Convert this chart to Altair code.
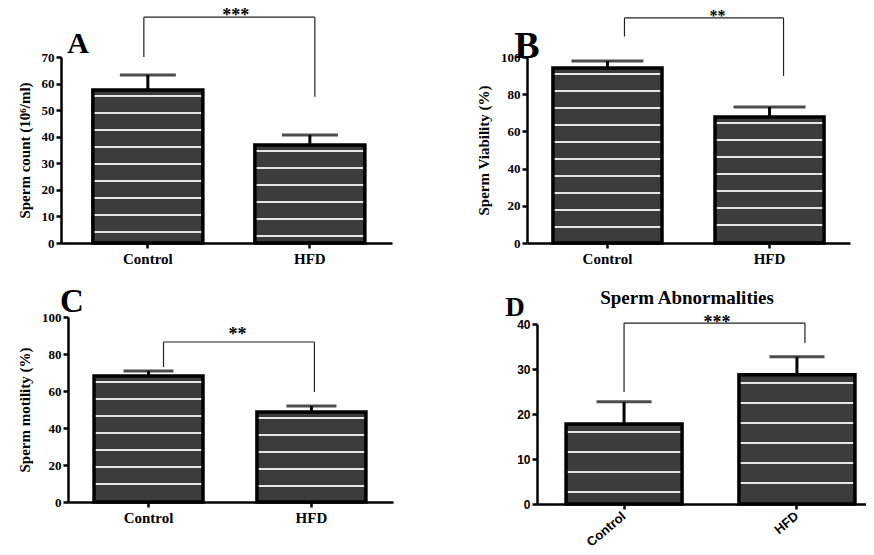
import altair as alt
import pandas as pd

# ---------------- data ----------------
categories = ["Control", "HFD"]
panel_letters = ["A", "B", "C", "D"]

count_mean = [57.6, 36.9]
count_sem = [5.6, 3.7]
viability_mean = [94.1, 67.7]
viability_sem = [3.7, 5.4]
motility_mean = [68.1, 48.6]
motility_sem = [2.7, 3.3]
abnormal_mean = [17.8, 28.7]
abnormal_sem = [4.9, 4.0]

sig_labels = ["***", "**", "**", "***"]
bracket_top = [85.0, 121.0, 86.5, 40.2]
bracket_left_end = [70.0, 111.0, 73.0, 24.9]
bracket_right_end = [55.0, 89.8, 59.5, 35.8]

y_titles = ["Sperm count (10⁶/ml)", "Sperm Viability (%)", "Sperm motility (%)", None]
y_max = [70, 100, 100, 40]
y_step = [10, 20, 20, 10]
chart_title_D = "Sperm Abnormalities"

means = [count_mean, viability_mean, motility_mean, abnormal_mean]
sems = [count_sem, viability_sem, motility_sem, abnormal_sem]

# ---------------- layout / style (page pixels) ----------------
W, H = 858, 539
M = 8
layout = [
    dict(x0=61, x1=392, ytop=57, ybot=243, pi=0.321, po=0.182, al=0.54, cap=56,
         font="Liberation Serif", lsize=13, letter=(78, 53, 30), stars=(88, 4),
         boff=(-4, 5), stripe=17, first=6),
    dict(x0=527, x1=850, ytop=57, ybot=243, pi=0.327, po=0.16, al=0.5, cap=72,
         font="Liberation Serif", lsize=13, letter=(527, 58, 38), stars=(110, 3),
         boff=(17, 14), stripe=17, first=6),
    dict(x0=68, x1=393, ytop=317, ybot=502, pi=0.331, po=0.163, al=0.49, cap=50,
         font="Liberation Serif", lsize=13, letter=(72, 312, 33), stars=(89, -2),
         boff=(15, 3), stripe=17, first=6),
    dict(x0=537, x1=884, ytop=324, ybot=504, pi=0.329, po=0.168, al=0.5, cap=55,
         font="Liberation Sans", lsize=12, letter=(515, 316, 27), stars=(93, 5),
         boff=(0, 8), stripe=20, first=8),
]

DARK = "#3c3c3c"
LIGHT = "#e6e6e6"


def stripe_gradient(h_px, spacing, first):
    stops = [alt.GradientStop(offset=0, color=DARK)]
    pos = first
    hw = 1.3
    while pos < h_px - 3:
        a = max((pos - hw) / h_px, 0)
        b = min((pos + hw) / h_px, 1)
        stops += [alt.GradientStop(offset=a, color=DARK),
                  alt.GradientStop(offset=a, color=LIGHT),
                  alt.GradientStop(offset=b, color=LIGHT),
                  alt.GradientStop(offset=b, color=DARK)]
        pos += spacing
    stops.append(alt.GradientStop(offset=1, color=DARK))
    return alt.LinearGradient(gradient="linear", stops=stops, x1=0, x2=0, y1=0, y2=1)


panels = []
for i in range(4):
    L = layout[i]
    font = L["font"]
    df = pd.DataFrame({
        "category": categories,
        "mean": means[i],
        "upper": [m + s for m, s in zip(means[i], sems[i])],
    })
    bdf = pd.DataFrame({
        "c1": [categories[0]], "c2": [categories[1]],
        "top": [bracket_top[i]], "lend": [bracket_left_end[i]],
        "rend": [bracket_right_end[i]], "stars": [sig_labels[i]],
    })
    ldf = pd.DataFrame({"letter": [panel_letters[i]]})

    xscale = alt.Scale(domain=categories, range=[L["x0"] - M, L["x1"] - M],
                       paddingInner=L["pi"], paddingOuter=L["po"], align=L["al"])
    yscale = alt.Scale(domain=[0, y_max[i]], range=[L["ybot"] - M, L["ytop"] - M],
                       nice=False, zero=True)
    xaxis_kw = dict(title=None, orient="bottom", offset=(L["ybot"] - M) - H,
                    labelFont=font, labelFontWeight="bold", labelFontSize=15,
                    labelAngle=0, labelPadding=3, domainWidth=2.5, tickWidth=2.5, tickSize=5)
    if i == 3:
        xaxis_kw.update(labelAngle=-40, labelAlign="right", labelBaseline="middle",
                        labelPadding=5, labelFontSize=13)
    xaxis = alt.Axis(**xaxis_kw)
    yaxis = alt.Axis(title=y_titles[i], orient="left", offset=-(L["x0"] - M),
                     values=list(range(0, y_max[i] + 1, y_step[i])),
                     labelFont=font, labelFontWeight="bold", labelFontSize=L["lsize"],
                     labelPadding=2, titleFont="Liberation Serif", titleFontWeight="bold",
                     titleFontSize=15, titlePadding=9, domainWidth=2.5, tickWidth=2.5, tickSize=5)

    def X(f):
        return alt.X(f, scale=xscale, axis=xaxis)

    def Y(f):
        return alt.Y(f, scale=yscale, axis=yaxis)

    layers = []
    ppu = (L["ybot"] - L["ytop"]) / y_max[i]
    for j, cat in enumerate(categories):
        grad = stripe_gradient(means[i][j] * ppu, L["stripe"], L["first"])
        layers.append(
            alt.Chart(df).transform_filter(alt.datum.category == cat)
            .mark_bar(fill=grad, stroke="black", strokeWidth=3.5)
            .encode(x=X("category:N"), y=Y("mean:Q"))
        )
    layers.append(
        alt.Chart(df).mark_rule(color="black", strokeWidth=3)
        .encode(x=X("category:N"), y=Y("mean:Q"), y2="upper:Q")
    )
    layers.append(
        alt.Chart(df).mark_tick(color="black", thickness=3, size=L["cap"], orient="horizontal")
        .encode(x=X("category:N"), y=Y("upper:Q"))
    )
    # significance bracket
    lo, ro = L["boff"]
    layers.append(
        alt.Chart(bdf).mark_rule(color="#222222", strokeWidth=1.2, xOffset=lo)
        .encode(x=X("c1:N"), y=Y("lend:Q"), y2="top:Q")
    )
    layers.append(
        alt.Chart(bdf).mark_rule(color="#222222", strokeWidth=1.2, xOffset=ro)
        .encode(x=X("c2:N"), y=Y("rend:Q"), y2="top:Q")
    )
    layers.append(
        alt.Chart(bdf).mark_rule(color="#222222", strokeWidth=1.2, xOffset=lo, x2Offset=ro)
        .encode(x=X("c1:N"), x2="c2:N", y=Y("top:Q"))
    )
    sdx, sdy = L["stars"]
    layers.append(
        alt.Chart(bdf).mark_text(font="Liberation Serif", fontWeight="bold",
                                 fontSize=16 if i == 1 else 18,
                                 align="center", baseline="alphabetic",
                                 dx=sdx, dy=sdy, color="black")
        .encode(x=X("c1:N"), y=Y("top:Q"), text="stars:N")
    )
    lx, ly, ls = L["letter"]
    layers.append(
        alt.Chart(ldf).mark_text(font="Liberation Serif", fontWeight="bold", fontSize=ls,
                                 align="center", baseline="alphabetic", color="black")
        .encode(x=alt.value(lx - M), y=alt.value(ly - M), text="letter:N")
    )
    if i == 3:
        tdf = pd.DataFrame({"t": [chart_title_D]})
        layers.append(
            alt.Chart(tdf).mark_text(font="Liberation Serif", fontWeight="bold", fontSize=19,
                                     align="center", baseline="middle", color="black")
            .encode(x=alt.value(687 - M), y=alt.value(298 - M), text="t:N")
        )
    panels.append(alt.layer(*layers))

chart = (
    alt.layer(*panels)
    .resolve_scale(x="independent", y="independent")
    .resolve_axis(x="independent", y="independent")
    .properties(width=W, height=H, padding=0, autosize=alt.AutoSizeParams(type="none"))
    .configure_view(strokeWidth=0)
    .configure_axis(grid=False, domainColor="black", tickColor="black",
                    labelColor="black", titleColor="black")
)

chart.save("out.html", embed_options={"renderer": "svg", "actions": False})
